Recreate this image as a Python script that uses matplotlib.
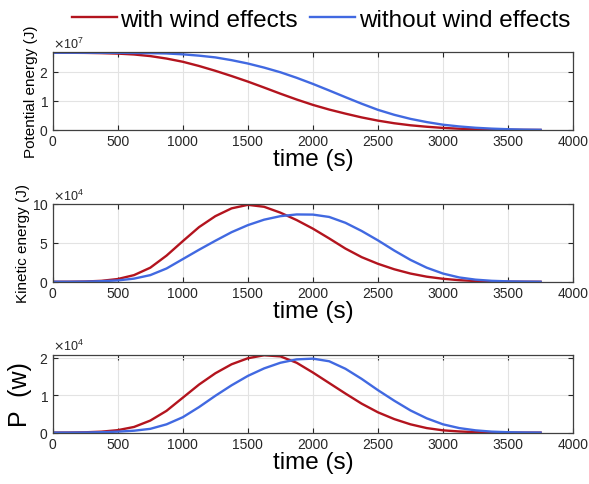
import matplotlib.pyplot as plt
import numpy as np
from matplotlib.ticker import ScalarFormatter

# time samples (s)
time_s = np.arange(0, 3751, 125)

# potential energy (x1e7 J)
pe_wind = [2.65, 2.649, 2.645, 2.636, 2.62, 2.59, 2.535, 2.45, 2.34, 2.195,
           2.03, 1.85, 1.66, 1.455, 1.245, 1.045, 0.86, 0.70, 0.56, 0.43,
           0.32, 0.23, 0.16, 0.11, 0.07, 0.042, 0.024, 0.012, 0.005, 0.002,
           0.0]
pe_nowind = [2.65, 2.65, 2.65, 2.649, 2.647, 2.643, 2.635, 2.625, 2.595, 2.55,
             2.49, 2.395, 2.28, 2.14, 1.98, 1.79, 1.58, 1.355, 1.125, 0.90,
             0.69, 0.52, 0.38, 0.27, 0.18, 0.12, 0.075, 0.045, 0.025, 0.012,
             0.005]

# kinetic energy (x1e4 J)
ke_wind = [0.0, 0.005, 0.03, 0.12, 0.35, 0.85, 1.8, 3.35, 5.2, 7.0, 8.4, 9.4,
           9.85, 9.6, 8.85, 7.9, 6.8, 5.55, 4.25, 3.15, 2.3, 1.6, 1.05, 0.65,
           0.38, 0.2, 0.09, 0.04, 0.015, 0.005, 0.0]
ke_nowind = [0.0, 0.0, 0.02, 0.07, 0.17, 0.4, 0.85, 1.7, 2.9, 4.1, 5.25, 6.35,
             7.25, 7.95, 8.4, 8.62, 8.6, 8.3, 7.55, 6.5, 5.3, 4.0, 2.8, 1.8,
             1.05, 0.55, 0.27, 0.12, 0.05, 0.02, 0.0]

# power (x1e4 W)
p_wind = [0.0, 0.002, 0.008, 0.025, 0.065, 0.15, 0.32, 0.58, 0.93, 1.28, 1.58,
          1.82, 1.98, 2.06, 2.03, 1.86, 1.6, 1.32, 1.04, 0.77, 0.54, 0.36,
          0.22, 0.12, 0.06, 0.03, 0.012, 0.004, 0.001, 0.0, 0.0]
p_nowind = [0.0, 0.0, 0.003, 0.01, 0.025, 0.05, 0.1, 0.22, 0.41, 0.68, 0.98,
            1.26, 1.51, 1.71, 1.86, 1.95, 1.97, 1.9, 1.7, 1.43, 1.13, 0.85,
            0.59, 0.38, 0.22, 0.12, 0.06, 0.025, 0.01, 0.003, 0.0]

RED = '#b3141e'
BLUE = '#4169e1'

plt.rcParams['font.family'] = ['Liberation Sans', 'DejaVu Sans']

fig = plt.figure(figsize=(5.89, 4.85), dpi=100)

panels = [
    (0.730, np.array(pe_wind) * 1e7, np.array(pe_nowind) * 1e7, 2.68e7,
     [0, 1e7, 2e7], 7, 'Potential energy (J)', 11),
    (0.417, np.array(ke_wind) * 1e4, np.array(ke_nowind) * 1e4, 10e4,
     [0, 5e4, 10e4], 4, 'Kinetic energy (J)', 11),
    (0.106, np.array(p_wind) * 1e4, np.array(p_nowind) * 1e4, 2.08e4,
     [0, 1e4, 2e4], 4, 'P  (w)', 18),
]

lines = []
for bottom, y_wind, y_nowind, ytop, yticks, power, ylabel, yls in panels:
    ax = fig.add_axes([0.0895, bottom, 0.8835, 0.161])
    l1, = ax.plot(time_s, y_wind, color=RED, lw=1.7)
    l2, = ax.plot(time_s, y_nowind, color=BLUE, lw=1.7)
    lines = [l1, l2]
    ax.set_xlim(0, 4000)
    ax.set_ylim(0, ytop)
    ax.set_xticks(np.arange(0, 4001, 500))
    ax.set_yticks(yticks)
    fmt = ScalarFormatter(useMathText=True)
    fmt.set_powerlimits((power, power))
    ax.yaxis.set_major_formatter(fmt)
    ax.yaxis.get_offset_text().set_fontsize(9)
    ax.yaxis.get_offset_text().set_color('#333333')
    ax.grid(True, color='#e3e3e3', lw=0.8)
    ax.set_axisbelow(True)
    ax.tick_params(direction='in', top=True, right=True, length=3.5,
                   labelsize=10, colors='#262626', pad=3)
    for s in ax.spines.values():
        s.set_color('#404040')
        s.set_linewidth(0.9)
    ax.set_xlabel('time (s)', fontsize=17.5, labelpad=0)
    ax.set_ylabel(ylabel, fontsize=yls, labelpad=1 if yls < 12 else 5)

fig.legend(lines, ['with wind effects', 'without wind effects'],
           loc='center', bbox_to_anchor=(0.545, 0.957), ncol=2, frameon=False,
           fontsize=17.5, handlelength=1.85, handletextpad=0.15,
           columnspacing=0.5)

fig.savefig('out.png', dpi=100)
